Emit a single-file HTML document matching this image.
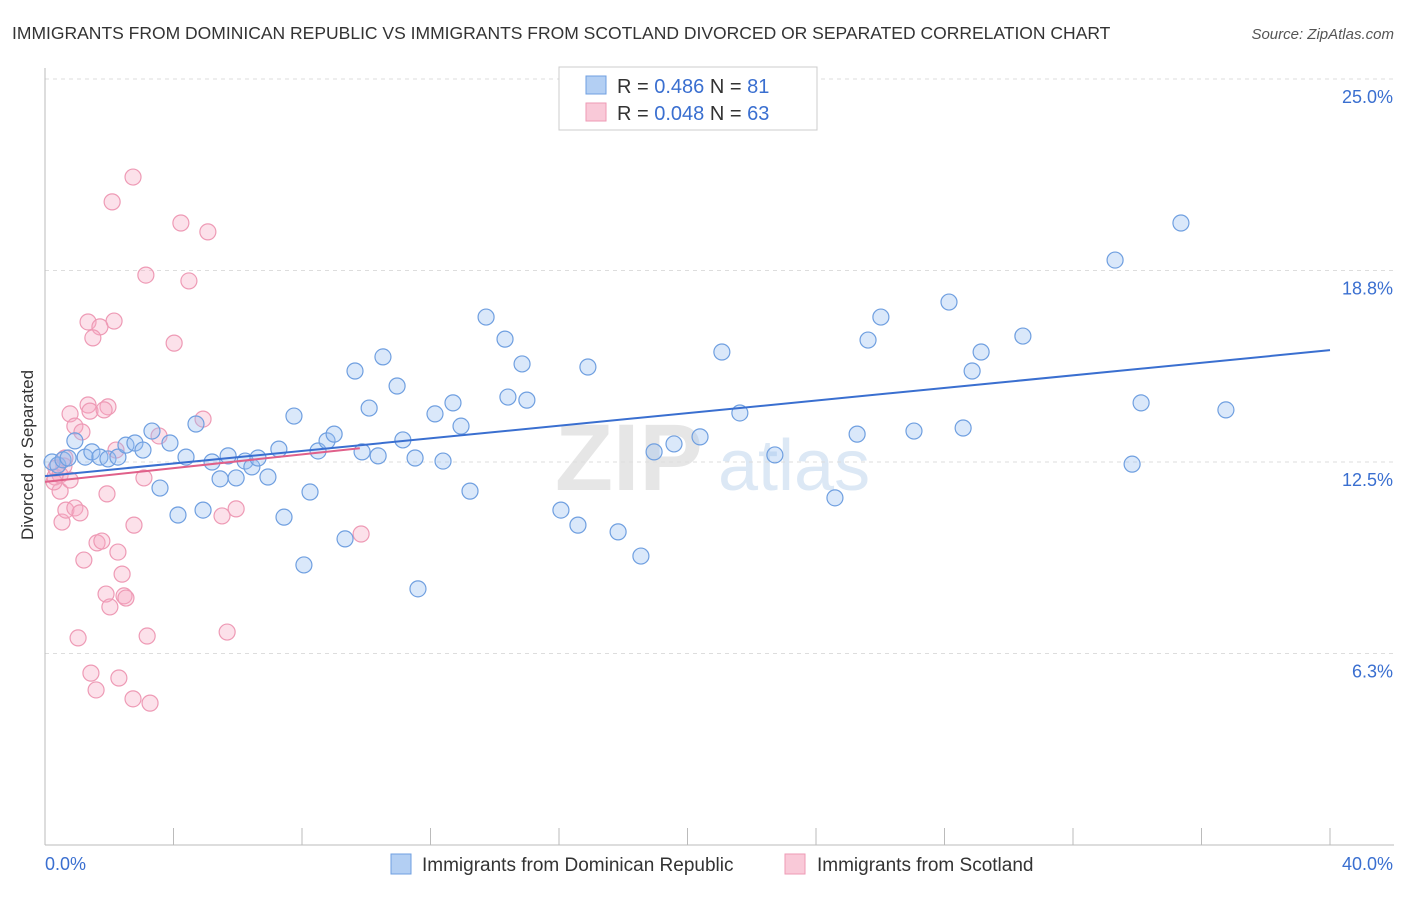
<!DOCTYPE html>
<html><head><meta charset="utf-8"><style>
body{margin:0;background:#fff;font-family:"Liberation Sans",sans-serif;}
svg text{font-family:"Liberation Sans",sans-serif;}
</style></head><body>
<svg id="chart" width="1406" height="892" xmlns="http://www.w3.org/2000/svg">
<text x="12" y="39" font-size="17.5" fill="#333">IMMIGRANTS FROM DOMINICAN REPUBLIC VS IMMIGRANTS FROM SCOTLAND DIVORCED OR SEPARATED CORRELATION CHART</text>
<text x="1394" y="39" font-size="15" fill="#555" font-style="italic" text-anchor="end">Source: ZipAtlas.com</text>
<text x="33" y="455" font-size="17" fill="#333" text-anchor="middle" transform="rotate(-90 33 455)">Divorced or Separated</text>
<g><text x="555" y="490" font-size="95" fill="#e6e6e6" font-family="Liberation Serif" font-weight="bold">ZIP</text><text x="718" y="490" font-size="72" fill="#dce8f5">atlas</text></g>
<g id="grid"></g><g id="axes"></g><g id="marks"></g>
<g>
<rect x="559" y="67" width="258" height="63" fill="#fff" stroke="#ccc"/>
<rect x="586" y="76" width="20" height="18" fill="#b3cff3" stroke="#6f9fe0"/>
<rect x="586" y="103" width="20" height="18" fill="#f9c9d8" stroke="#ee9ab5"/>
<text x="617" y="93" font-size="20" fill="#333">R = <tspan fill="#3a6fd0">0.486</tspan>   N = <tspan fill="#3a6fd0">81</tspan></text>
<text x="617" y="120" font-size="20" fill="#333">R = <tspan fill="#3a6fd0">0.048</tspan>   N = <tspan fill="#3a6fd0">63</tspan></text>
</g>
<g>
<rect x="391" y="854" width="20" height="20" fill="#b3cff3" stroke="#6f9fe0"/>
<text x="422" y="871" font-size="19" fill="#333">Immigrants from Dominican Republic</text>
<rect x="785" y="854" width="20" height="20" fill="#f9c9d8" stroke="#ee9ab5"/>
<text x="817" y="871" font-size="19" fill="#333">Immigrants from Scotland</text>
</g>
</svg>
<script>
const yTicks=[25.0,18.8,12.5,6.3];
const yTickVals=[25,18.75,12.5,6.25];
const xTicks=[0,4,8,12,16,20,24,28,32,36,40];
const bluePx=[[52,462],[58,465],[63,460],[68,458],[75,441],[85,457],[92,452],[100,457],[108,459],[118,457],[126,445],[135,443],[143,450],[152,431],[160,488],[170,443],[178,515],[186,457],[196,424],[203,510],[212,462],[220,479],[228,456],[236,478],[245,461],[252,467],[258,458],[268,477],[279,449],[284,517],[294,416],[304,565],[310,492],[318,451],[327,441],[334,434],[345,539],[355,371],[362,452],[369,408],[378,456],[383,357],[397,386],[403,440],[415,458],[418,589],[435,414],[443,461],[453,403],[461,426],[470,491],[486,317],[505,339],[508,397],[522,364],[527,400],[561,510],[578,525],[588,367],[618,532],[641,556],[654,452],[674,444],[700,437],[722,352],[740,413],[775,455],[835,498],[857,434],[868,340],[881,317],[914,431],[949,302],[963,428],[972,371],[981,352],[1023,336],[1115,260],[1132,464],[1141,403],[1181,223],[1226,410]];
const pinkPx=[[133,177],[112,202],[181,223],[208,232],[146,275],[189,281],[88,322],[114,321],[100,327],[93,338],[174,343],[88,405],[108,407],[70,414],[203,419],[90,411],[104,410],[75,426],[82,432],[116,450],[159,436],[144,478],[107,494],[64,466],[55,477],[60,491],[62,522],[66,510],[75,508],[80,513],[236,509],[222,516],[134,525],[97,543],[102,541],[84,560],[118,552],[122,574],[106,594],[124,596],[126,598],[110,607],[361,534],[78,638],[147,636],[227,632],[91,673],[119,678],[96,690],[133,699],[150,703],[56,468],[60,475],[65,458],[54,482],[70,480]];
// data values (percent)
const blueX=bluePx.map(p=>+((p[0]-45)/1285*40).toFixed(2));
const blueY=bluePx.map(p=>+((845-p[1])/191.5*6.25).toFixed(2));
const pinkX=pinkPx.map(p=>+((p[0]-45)/1285*40).toFixed(2));
const pinkY=pinkPx.map(p=>+((845-p[1])/191.5*6.25).toFixed(2));
const blueTrend=[[0,12.04],[40,16.15]];
const pinkTrend=[[0,11.85],[9.8,12.95]];
const X0=45,X1=1330,Y0=845;
const xs=v=>X0+v/40*(X1-X0);
const ys=v=>Y0-v/6.25*191.5;
const NS="http://www.w3.org/2000/svg";
function mk(tag,attrs,parent){const e=document.createElementNS(NS,tag);for(const k in attrs)e.setAttribute(k,attrs[k]);parent.appendChild(e);return e;}
const grid=document.getElementById('grid'),axes=document.getElementById('axes'),marks=document.getElementById('marks');
yTickVals.forEach((v,i)=>{
 const l=mk('line',{x1:X0,x2:1394,y1:ys(v),y2:ys(v),stroke:'#ddd','stroke-dasharray':'4,4'},grid);
 
 
 const t=mk('text',{x:1393,y:ys(v)+24,'font-size':18,fill:'#3a6fd0','text-anchor':'end'},axes);t.textContent=yTicks[i].toFixed(1)+'%';
 
 
});
const ax=mk('line',{x1:X0,x2:1394,y1:Y0,y2:Y0,stroke:'#bbb'},axes);


const ay=mk('line',{x1:X0,x2:X0,y1:68,y2:Y0,stroke:'#bbb'},axes);


xTicks.forEach(v=>{const t=mk('line',{x1:xs(v),x2:xs(v),y1:828,y2:Y0,stroke:'#bbb'},axes);
 
 });
const xl0=mk('text',{x:45,y:870,'font-size':18,fill:'#3a6fd0'},axes);xl0.textContent='0.0%';


const xl1=mk('text',{x:1393,y:870,'font-size':18,fill:'#3a6fd0','text-anchor':'end'},axes);xl1.textContent='40.0%';


pinkX.forEach((x,i)=>{const c=mk('circle',{cx:xs(x),cy:ys(pinkY[i]),r:8,fill:'rgba(245,170,195,0.35)',stroke:'#ee9ab5','stroke-width':1.2},marks);
 
 });
blueX.forEach((x,i)=>{const c=mk('circle',{cx:xs(x),cy:ys(blueY[i]),r:8,fill:'rgba(150,190,240,0.35)',stroke:'#6f9fe0','stroke-width':1.2},marks);
 
 });
const bl=mk('line',{x1:xs(blueTrend[0][0]),y1:ys(blueTrend[0][1]),x2:xs(blueTrend[1][0]),y2:ys(blueTrend[1][1]),stroke:'#3a6fd0','stroke-width':2},marks);


const pl=mk('line',{x1:xs(pinkTrend[0][0]),y1:ys(pinkTrend[0][1]),x2:xs(pinkTrend[1][0]),y2:ys(pinkTrend[1][1]),stroke:'#e0608a','stroke-width':2},marks);


</script>
</body></html>
